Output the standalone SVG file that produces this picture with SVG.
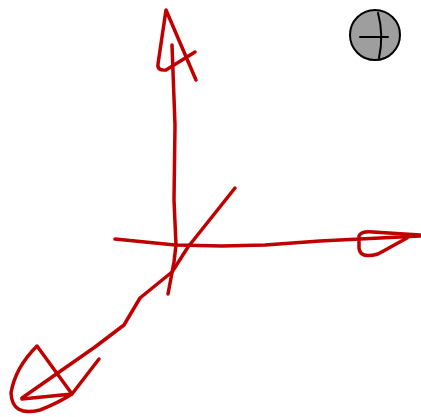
<svg xmlns="http://www.w3.org/2000/svg" width="421" height="417" viewBox="0 0 421 417">
<style>
.ax{fill:none;stroke:#c00000;stroke-width:3.5;stroke-linecap:round;stroke-linejoin:round}
.gl{fill:none;stroke:#000;stroke-width:2;stroke-linecap:round}
</style>
<rect width="421" height="417" fill="#fff"/>
<g id="axis-y">
<path class="ax" d="M168,294 L174,262 L176,245 L174,200 L175,125 L172,45"/>
<path class="ax" d="M196,80 L166,10 L158,64 Q157,71 166,70 L195,52"/>
</g>
<g id="axis-x">
<path class="ax" d="M115,239 L175,245 L222,246 L265,245 L320,241 L420,236"/>
<path class="ax" d="M407,238 L378,254 Q360,259 359,248 L359,236 Q361,231 373,232 L420,235"/>
</g>
<g id="axis-z">
<path class="ax" d="M235,188 L188,247 L172,272 L140,298 L124,325 L95,347 L22,398"/>
<path class="ax" d="M99,359 L72,394 L37,346 Q15,368 11,393 Q12,417 40,410 Q58,403 72,394 L22,399"/>
</g>
<g id="gizmo">
<circle cx="375" cy="35" r="25" fill="#9e9e9e" stroke="#000" stroke-width="2"/>
<path class="gl" d="M360,37 L388,37"/>
<path class="gl" d="M378,13 Q384,35 379,58"/>
</g>
</svg>
